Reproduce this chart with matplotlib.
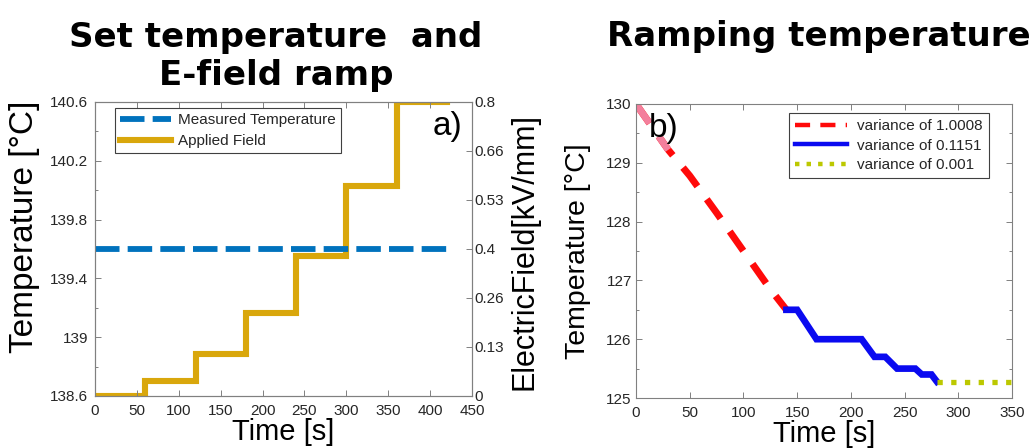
import numpy as np
import matplotlib
matplotlib.use("Agg")
import matplotlib.pyplot as plt
from matplotlib.ticker import FixedLocator, MultipleLocator

# ---- data ---------------------------------------------------------------
# Panel a) set temperature with stepwise E-field ramp
temp_time = [0, 420]
temp_value = [139.6, 139.6]
field_time = [0, 60, 120, 180, 240, 300, 360, 420]
field_value = [0.0, 0.04, 0.115, 0.227, 0.38, 0.57, 0.8, 0.8]
temp_ticks = [138.6, 139.0, 139.4, 139.8, 140.2, 140.6]
temp_ticklabels = ["138.6", "139", "139.4", "139.8", "140.2", "140.6"]
field_ticklabels = ["0", "0.13", "0.26", "0.4", "0.53", "0.66", "0.8"]
time_ticks_a = [0, 50, 100, 150, 200, 250, 300, 350, 400, 450]

# Panel b) ramping temperature, three regimes
ramp_time = [0, 30, 50, 75, 100, 125, 140]
ramp_temp = [130.0, 129.22, 128.78, 128.15, 127.5, 126.85, 126.5]
step_time = [140, 150, 168, 210, 222, 232, 243, 260, 266, 275, 280]
step_temp = [126.5, 126.5, 126.0, 126.0, 125.7, 125.7, 125.5, 125.5, 125.4, 125.4, 125.28]
hold_time = [280, 350]
hold_temp = [125.28, 125.28]
time_ticks_b = [0, 50, 100, 150, 200, 250, 300, 350]
ramp_ticks = [125, 126, 127, 128, 129, 130]
labels_b = ["variance of 1.0008", "variance of 0.1151", "variance of 0.001"]

# ---- style --------------------------------------------------------------
SANS = ["Liberation Sans", "DejaVu Sans"]
plt.rcParams["font.family"] = SANS
plt.rcParams["axes.linewidth"] = 0.8
SPINE = "#808080"
TXT = "#262626"

fig = plt.figure(figsize=(10.35, 4.48), dpi=100)
ax1 = fig.add_axes([0.0918, 0.1161, 0.3643, 0.6563])
ax1r = ax1.twinx()
ax2 = fig.add_axes([0.6145, 0.1116, 0.3633, 0.6563])


def style_axes(ax, **kw):
    for s in ax.spines.values():
        s.set_color(SPINE)
    ax.tick_params(which="both", direction="in", color=SPINE,
                   labelcolor=TXT, labelsize=11, width=0.7, **kw)
    ax.tick_params(which="major", length=4)
    ax.tick_params(which="minor", length=2.5)


# ---- panel a ------------------------------------------------------------
ax1r.step(field_time, field_value, where="post", color="#D9A70C", lw=4.4,
          solid_joinstyle="miter", label="Applied Field")
temp_line, = ax1.plot(temp_time, temp_value, color="#0072BD", lw=4.2,
                      dashes=(4.2, 1.4), dash_capstyle="butt",
                      label="Measured Temperature")
ax1.set_zorder(ax1r.get_zorder() + 1)
ax1.patch.set_visible(False)

ax1.set_xlim(0, 450)
ax1.set_ylim(138.6, 140.6)
ax1r.set_ylim(0, 0.8)
ax1.xaxis.set_major_locator(FixedLocator(time_ticks_a))
ax1.set_yticks(temp_ticks)
ax1.set_yticklabels(temp_ticklabels)
ax1.yaxis.set_minor_locator(MultipleLocator(0.2))
ax1r.set_yticks(np.linspace(0, 0.8, len(field_ticklabels)))
ax1r.set_yticklabels(field_ticklabels)

style_axes(ax1, top=True, right=False)
style_axes(ax1r, left=False, right=True)
ax1.tick_params(axis="x", pad=6)
ax1.tick_params(axis="y", pad=5)
ax1r.tick_params(axis="y", pad=1.5)

ax1.set_xlabel("Time [s]", fontsize=21, labelpad=0, color="black")
ax1.set_ylabel("Temperature [°C]", fontsize=24, color="black")
ax1.yaxis.set_label_coords(-0.145, 0.575)
ax1r.set_ylabel("ElectricField[kV/mm]", fontsize=22, color="black")
ax1r.yaxis.set_label_coords(1.10, 0.49)

field_handle = ax1r.get_lines()[0]
leg1 = ax1.legend([temp_line, field_handle],
                  ["Measured Temperature", "Applied Field"],
                  loc="upper left", bbox_to_anchor=(0.053, 0.98),
                  borderaxespad=0, fontsize=11, frameon=True, fancybox=False,
                  edgecolor="#404040", framealpha=1, handlelength=3.3,
                  handletextpad=0.45, labelspacing=0.45, borderpad=0.35)
leg1.get_frame().set_linewidth(0.8)
for t in leg1.get_texts():
    t.set_color(TXT)

ax1.text(0.934, 0.915, "a)", transform=ax1.transAxes, fontsize=24,
         ha="center", va="center", color="black")
ax1.set_title("Set temperature  and\nE-field ramp", fontsize=24.5,
              fontweight="bold", family="DejaVu Sans", pad=12, x=0.48)

# ---- panel b ------------------------------------------------------------
ramp_style = dict(lw=5, dashes=(3.4, 2.3), dash_capstyle="butt")
l_ramp, = ax2.plot(ramp_time, ramp_temp, color="#FF0A0A", **ramp_style)
# faded start of the ramp
n_fade = 2
ax2.plot(ramp_time[:n_fade], ramp_temp[:n_fade], color="#F37F9C", **ramp_style)
l_step, = ax2.plot(step_time, step_temp, color="#0A0AF0", lw=4.8,
                   solid_joinstyle="miter")
l_hold, = ax2.plot(hold_time, hold_temp, color="#BCC800", lw=3.8,
                   dashes=(1.0, 1.6), dash_capstyle="butt")

ax2.set_xlim(0, 350)
ax2.set_ylim(125, 130)
ax2.xaxis.set_major_locator(FixedLocator(time_ticks_b))
ax2.set_yticks(ramp_ticks)
ax2.yaxis.set_minor_locator(MultipleLocator(0.5))
style_axes(ax2, top=True, right=True)
ax2.tick_params(axis="x", pad=6)
ax2.tick_params(axis="y", pad=3)

ax2.set_xlabel("Time [s]", fontsize=21, labelpad=0, color="black")
ax2.set_ylabel("Temperature [°C]", fontsize=20.5, color="black")
ax2.yaxis.set_label_coords(-0.12, 0.5)

leg2 = ax2.legend([l_ramp, l_step, l_hold], labels_b, loc="upper left",
                  bbox_to_anchor=(0.407, 0.969), borderaxespad=0, fontsize=11,
                  frameon=True, fancybox=False, edgecolor="#404040",
                  framealpha=1, handlelength=3.4, handletextpad=0.65,
                  labelspacing=0.35, borderpad=0.4)
leg2.get_frame().set_linewidth(0.8)
for line in leg2.get_lines():
    line.set_linewidth(3.2)
for t in leg2.get_texts():
    t.set_color(TXT)

ax2.text(0.0745, 0.918, "b)", transform=ax2.transAxes, fontsize=24,
         ha="center", va="center", color="black")
ax2.set_title("Ramping temperature", fontsize=24.5, fontweight="bold",
              family="DejaVu Sans", pad=42, x=0.485)

fig.savefig("out.png", dpi=100)
